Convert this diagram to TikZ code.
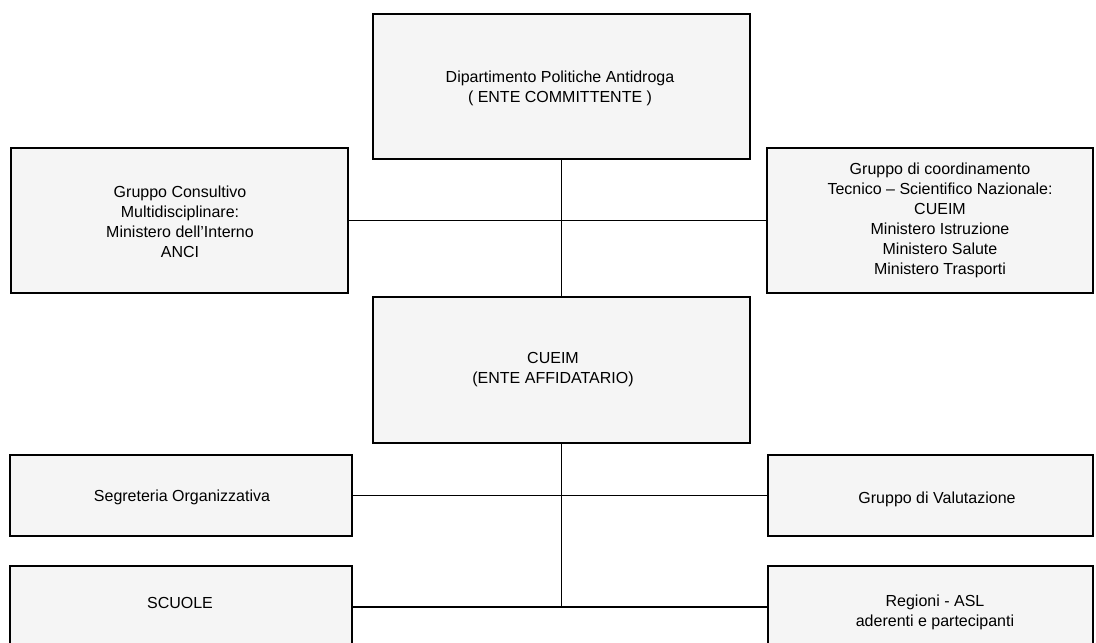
\documentclass[tikz,border=0pt]{standalone}
\usepackage{fontspec}
\setmainfont{Liberation Sans}
\begin{document}
\begin{tikzpicture}[x=1pt,y=-1pt,
  box/.style={draw=black, line width=1.8pt, fill=black!4, inner sep=0pt, outer sep=0pt},
  lbl/.style={align=center, font=\fontsize{16}{20}\selectfont, inner sep=0pt},
  conn/.style={line width=1.2pt}]
\useasboundingbox (0,0) rectangle (1096,643);
% boxes
\node[box, minimum width=377pt, minimum height=145pt] (top) at (561.5,86.5) {};
\node[box, minimum width=337pt, minimum height=145pt] (left) at (179.5,220.5) {};
\node[box, minimum width=326pt, minimum height=145pt] (right) at (930,220.5) {};
\node[box, minimum width=377pt, minimum height=146pt] (cueim) at (561.5,370) {};
\node[box, minimum width=342pt, minimum height=81pt] (seg) at (181,495.5) {};
\node[box, minimum width=325pt, minimum height=81pt] (val) at (930.5,495.5) {};
\node[box, minimum width=342pt, minimum height=94pt] (scuole) at (181,613) {};
\node[box, minimum width=325pt, minimum height=94pt] (reg) at (930.5,613) {};
% texts
\node[lbl] (topT) at (560,88.5) {Dipartimento Politiche Antidroga\\( ENTE COMMITTENTE )};
\node[lbl] (leftT) at (180,222) {Gruppo Consultivo\\Multidisciplinare:\\Ministero dell’Interno\\ANCI};
\node[lbl] (rightT) at (940,220) {Gruppo di coordinamento\\Tecnico -- Scientifico Nazionale:\\CUEIM\\Ministero Istruzione\\Ministero Salute\\Ministero Trasporti};
\node[lbl] (cueimT) at (553,370) {CUEIM\\(ENTE AFFIDATARIO)};
\node[lbl] (segT) at (182,497) {Segreteria Organizzativa};
\node[lbl] (valT) at (937,499) {Gruppo di Valutazione};
\node[lbl] (scuoleT) at (180,603) {SCUOLE};
\node[lbl] (regT) at (935,612) {Regioni - ASL\\aderenti e partecipanti};
% connectors
\coordinate (j) at (561.5,607);
\draw[conn] (top.south) -- (cueim.north);
\draw[conn] (left.east) -- (right.west);
\draw[conn] (cueim.south) -- (j);
\draw[conn] (seg.east) -- (val.west);
\draw[conn] (scuole.east |- j) -- (reg.west |- j);
\end{tikzpicture}
\end{document}
